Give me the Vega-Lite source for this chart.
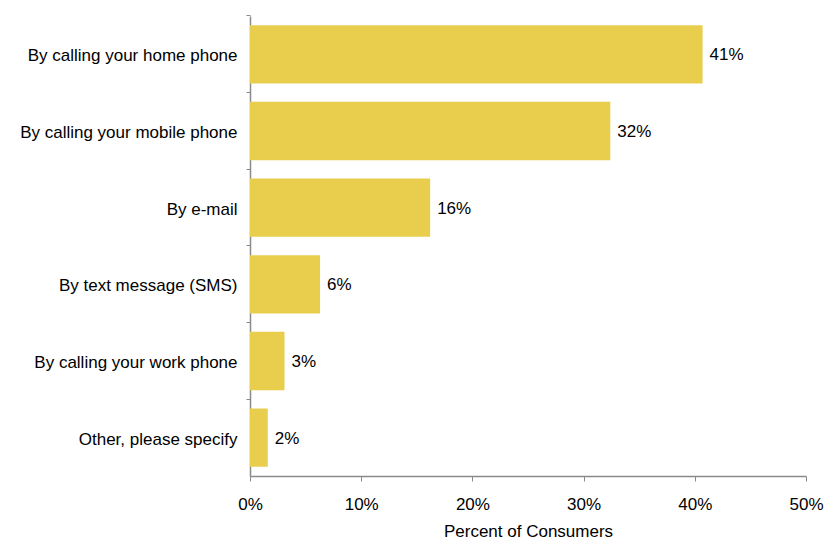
{
  "$schema": "https://vega.github.io/schema/vega-lite/v6.json",
  "width": 556,
  "height": 460,
  "autosize": {"type": "none"},
  "padding": {"left": 250, "top": 16, "right": 21, "bottom": 64},
  "background": "white",
  "config": {
    "view": {"stroke": null},
    "font": "Liberation Sans",
    "axis": {"domainColor": "#8a8a8a", "tickColor": "#8a8a8a", "labelColor": "#000000", "titleColor": "#000000", "labelFont": "Liberation Sans", "titleFont": "Liberation Sans", "labelFontSize": 17, "titleFontSize": 17, "titleFontWeight": "normal", "grid": false}
  },
  "data": {
    "values": [
      {"method": "By calling your home phone", "pct": 0.407},
      {"method": "By calling your mobile phone", "pct": 0.324},
      {"method": "By e-mail", "pct": 0.162},
      {"method": "By text message (SMS)", "pct": 0.063},
      {"method": "By calling your work phone", "pct": 0.031},
      {"method": "Other, please specify", "pct": 0.016}
    ]
  },
  "encoding": {
    "y": {
      "field": "method",
      "type": "nominal",
      "sort": null,
      "scale": {"paddingInner": 0.24, "paddingOuter": 0.12},
      "axis": {"title": null, "tickSize": 4, "labelPadding": 9, "bandPosition": -0.158, "labelLimit": 300, "labelOffset": 2, "domainWidth": 1.5}
    },
    "x": {
      "field": "pct",
      "type": "quantitative",
      "scale": {"domain": [0, 0.5]},
      "axis": {"title": "Percent of Consumers", "format": ".0%", "values": [0, 0.1, 0.2, 0.3, 0.4, 0.5], "tickSize": 5, "labelPadding": 15, "labelFlush": false, "titlePadding": 11, "domainWidth": 1.5}
    }
  },
  "layer": [
    {"mark": {"type": "bar", "color": "#E9CE4E"}},
    {"mark": {"type": "text", "align": "left", "dx": 7, "dy": 1, "fontSize": 17, "color": "#000000", "font": "Liberation Sans"},
     "encoding": {"text": {"field": "pct", "type": "quantitative", "format": ".0%"}}}
  ]
}
